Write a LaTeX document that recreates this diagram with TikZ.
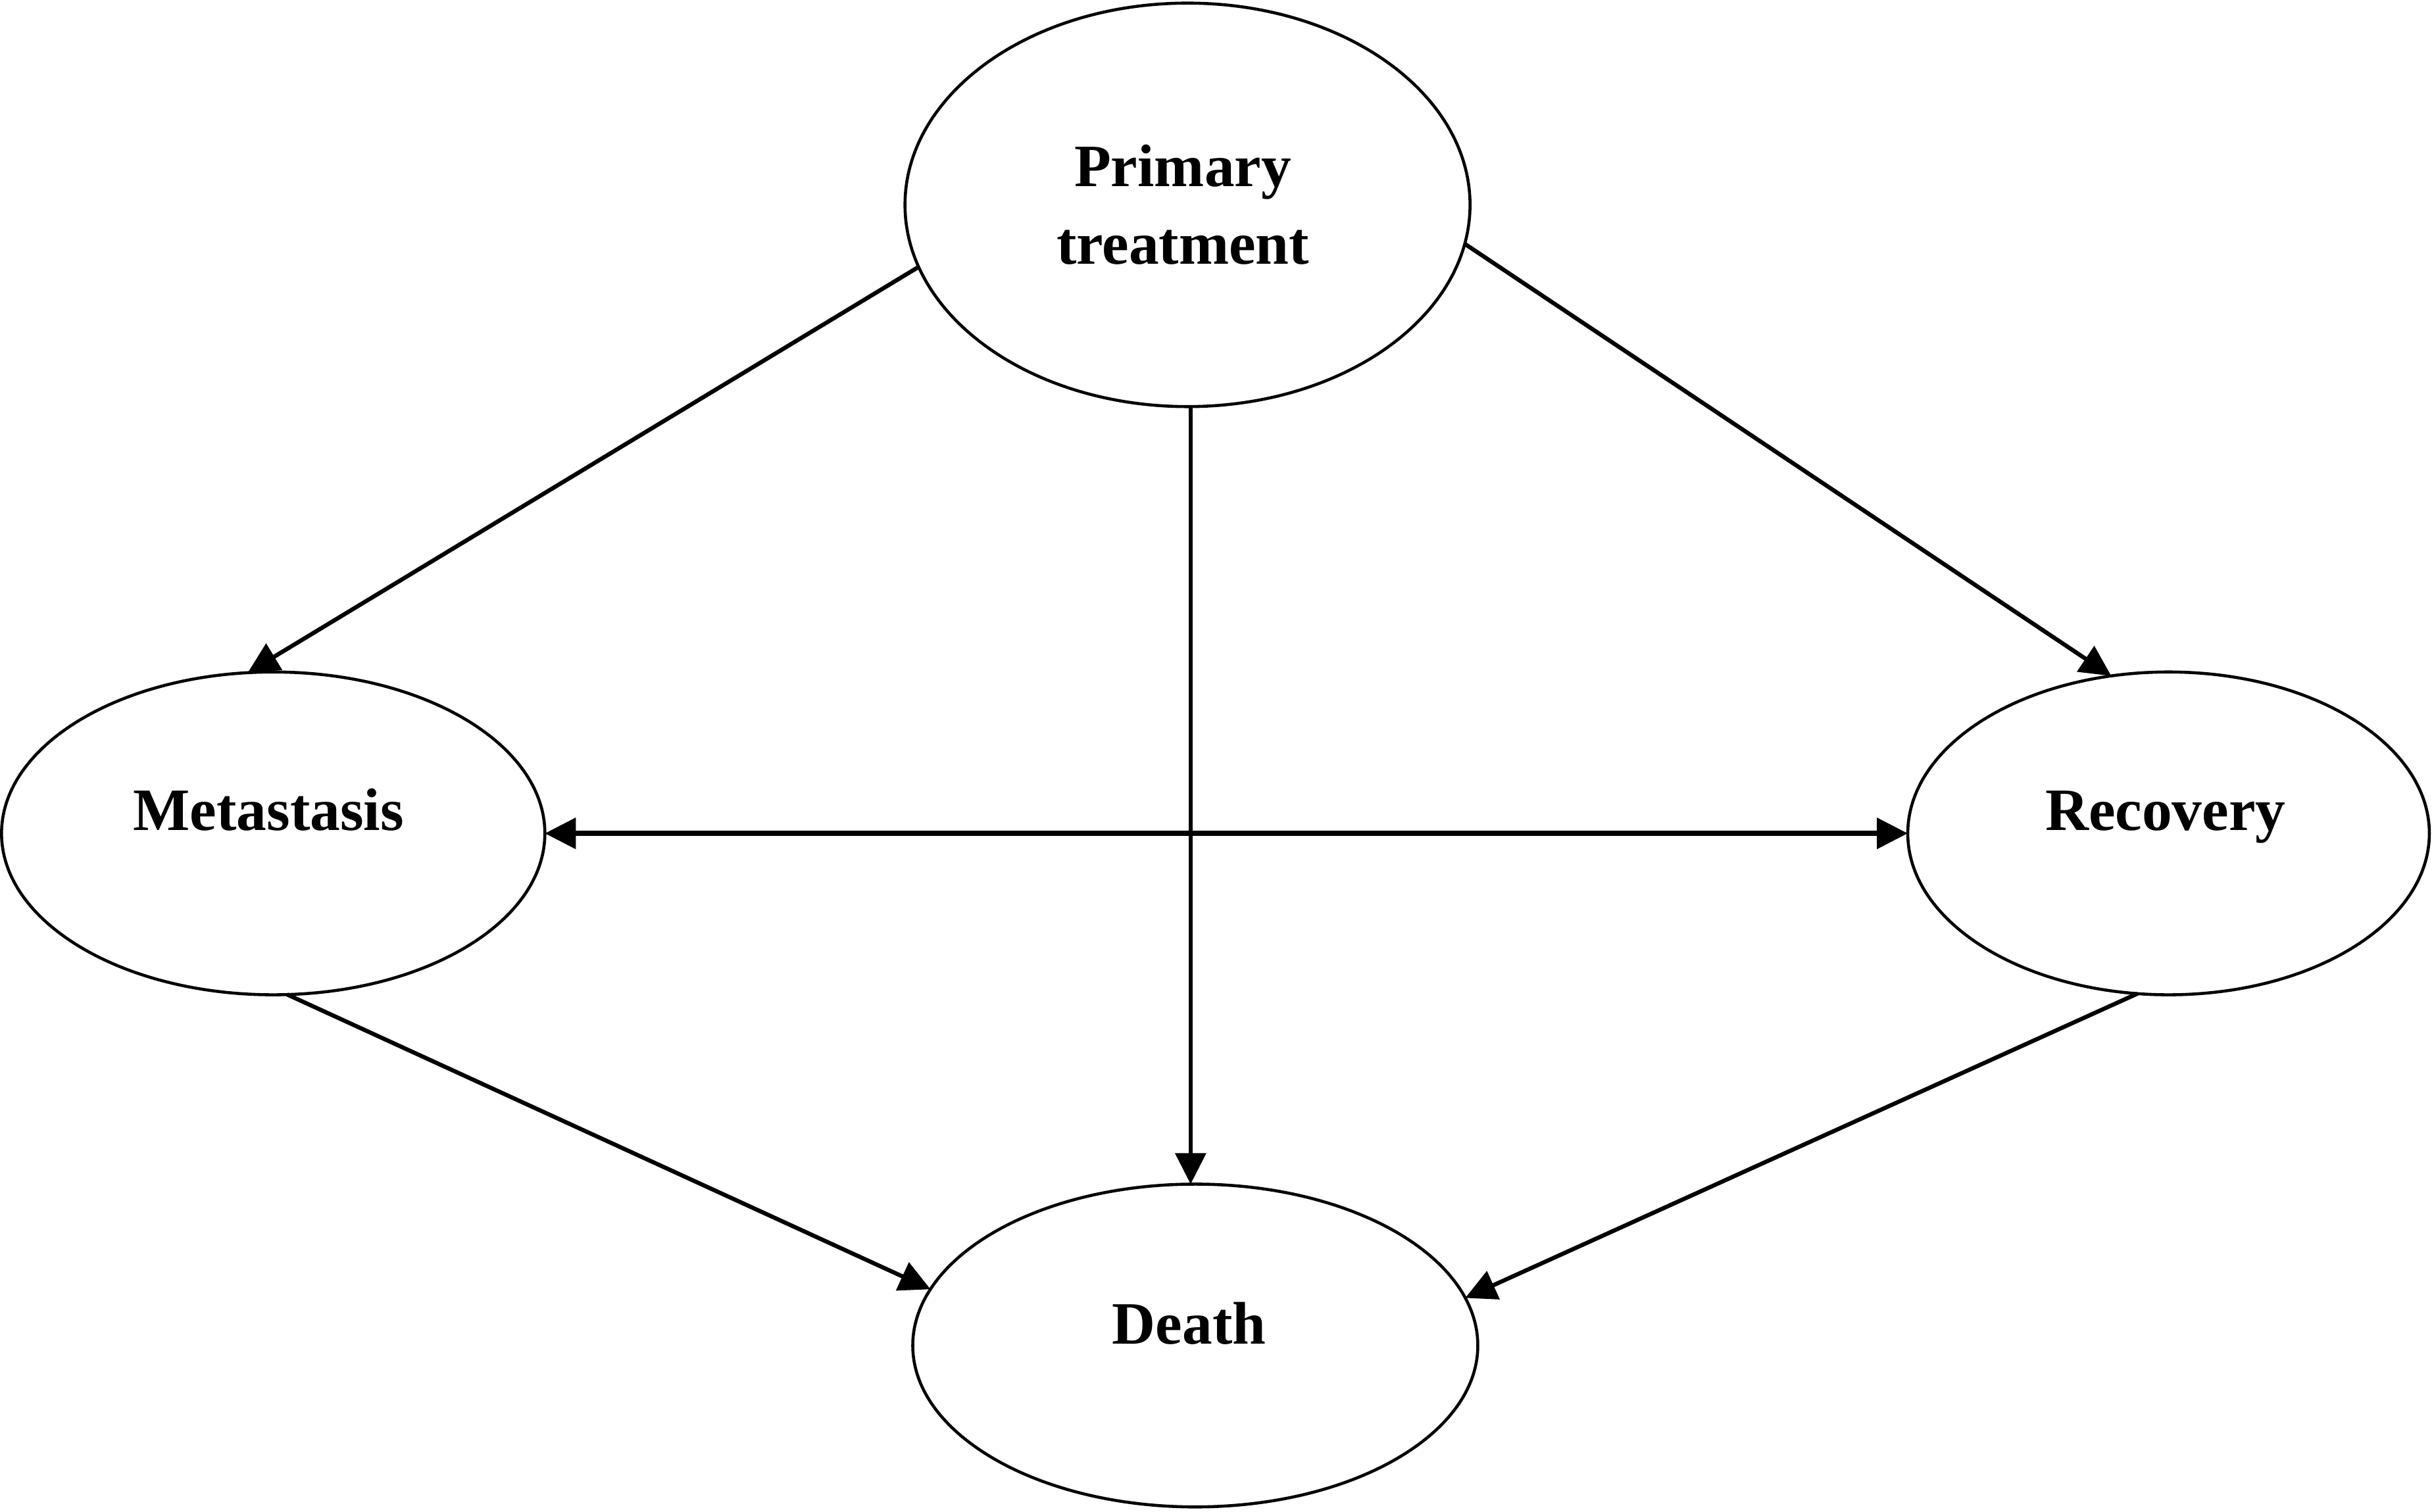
\documentclass[tikz,border=0pt]{standalone}
\usepackage{fontspec}
\setmainfont{Liberation Serif}
\usetikzlibrary{shapes.geometric,arrows.meta}
\begin{document}
\begin{tikzpicture}[x=0.023597cm,y=0.023597cm,
  ell/.style={draw, ellipse, line width=1.3pt, inner sep=0pt, outer sep=0pt},
  lbl/.style={font=\fontsize{26}{33.5}\selectfont\bfseries, align=center, inner sep=0pt},
  arr/.style={line width=1.8pt, -{Triangle[length=0.47cm,width=0.46cm]}}]
\useasboundingbox (0,0) rectangle (1568,974);
\node[ell, minimum width=364*0.023597cm, minimum height=260*0.023597cm] (pt) at (765,842) {};
\node[lbl] (ptl) at (762,842) {Primary\\treatment};
\node[ell, minimum width=350*0.023597cm, minimum height=208*0.023597cm] (met) at (176,437) {};
\node[lbl, anchor=base] (metl) at (173,439) {Metastasis};
\node[ell, minimum width=336*0.023597cm, minimum height=208*0.023597cm] (rec) at (1397,437) {};
\node[lbl, anchor=base] (recl) at (1395,439) {Recovery};
\node[ell, minimum width=364*0.023597cm, minimum height=208*0.023597cm] (dea) at (770,107) {};
\node[lbl, anchor=base] (deal) at (766,108) {Death};
\draw[arr] (pt.193) -- (met.99);
\draw[arr] (pt.-8) -- (rec.110);
\draw[arr] (pt.south -| 767,0) -- (dea.north -| 767,0);
\draw[line width=2.2pt, {Triangle[length=0.47cm,width=0.46cm]}-{Triangle[length=0.47cm,width=0.46cm]}] (met.east) -- (rec.west);
\draw[arr] (met.-85) -- (dea.168);
\draw[arr] (rec.259) -- (dea.10);
\end{tikzpicture}
\end{document}
